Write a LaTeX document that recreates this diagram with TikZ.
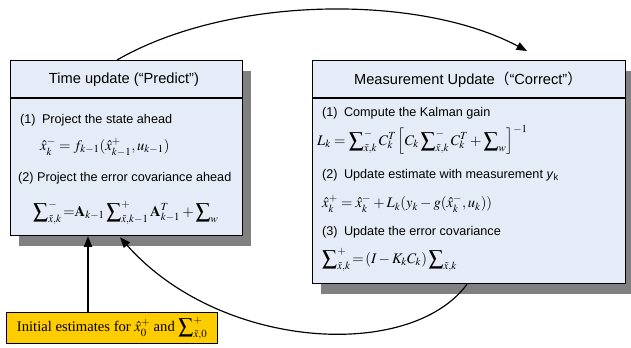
\documentclass[tikz,border=0pt]{standalone}
\usepackage{mathptmx}
\usepackage{fontspec}
\setmainfont{Liberation Sans}
\newfontfamily\cjkfont{Noto Sans CJK SC}
\newfontfamily\seriffont{Liberation Serif}
\usetikzlibrary{positioning,shadows,arrows.meta}
\definecolor{boxblue}{HTML}{E6ECF7}
\definecolor{shadowgray}{HTML}{808080}
\definecolor{initgold}{HTML}{FFCC00}
\tikzset{
  stagebox/.style={draw, line width=1.1pt, fill=boxblue, inner sep=0pt, anchor=north west,
    drop shadow={shadow xshift=0.25cm, shadow yshift=-0.3cm, fill=shadowgray, opacity=1}},
  initbox/.style={draw, line width=1.1pt, fill=initgold, inner sep=0pt, anchor=north west,
    font=\seriffont\fontsize{12.5}{14}\selectfont},
  boxtitle/.style={font=\fontsize{12.5}{15}\selectfont, inner sep=0pt},
  stepline/.style={anchor=west, font=\fontsize{10.8}{13}\selectfont, inner sep=0pt},
  eqline/.style={anchor=west, font=\fontsize{12.5}{14}\selectfont, inner sep=0pt},
  flow/.style={-{Triangle[length=9pt,width=7pt]}, line width=1pt},
}
\begin{document}
\begin{tikzpicture}[x=0.03cm, y=-0.03cm]
          \useasboundingbox (0,0) rectangle (631,348);
          % the two update boxes
          \node[stagebox, minimum width=6.96cm, minimum height=5.25cm] (predict) at (10,60) {};
          \node[stagebox, minimum width=9.39cm, minimum height=6.69cm] (correct) at (312,60) {};
          \draw[line width=1.1pt] (predict.west |- 0,98) -- (predict.east |- 0,98);
          \draw[line width=1.1pt] (correct.west |- 0,98) -- (correct.east |- 0,98);
          % time update
          \node[boxtitle] (ptitle) at (124,80) {Time update (“Predict”)};
          \node[stepline] (pstep1) at (20,120) {(1)\enspace Project the state ahead};
          \node[eqline] (peq1) at (40,147) {$\hat{x}_k^- = f_{k-1}(\hat{x}_{k-1}^+,u_{k-1})$};
          \node[stepline] (pstep2) at (18,178) {(2) Project the error covariance ahead};
          \node[eqline] (peq2) at (33,213) {$\displaystyle\sum\nolimits_{\tilde{x},k}^{-}{=}\mathbf{A}_{k-1}\sum\nolimits_{\tilde{x},k-1}^{+}\mathbf{A}_{k-1}^{T}+\sum\nolimits_{w}$};
          % measurement update
          \node[boxtitle] (ctitle) at (468,80) {Measurement Update{\cjkfont （}“Correct”{\cjkfont ）}};
          \node[stepline] (cstep1) at (322,113) {(1)\enspace Compute the Kalman gain};
          \node[eqline] (ceq1) at (317,140) {$\displaystyle L_k=\sum\nolimits_{\tilde{x},k}^{-}C_k^T\left[C_k\sum\nolimits_{\tilde{x},k}^{-}C_k^T+\sum\nolimits_{w}\right]^{-1}$};
          \node[stepline] (cstep2) at (322,175) {(2)\enspace Update estimate with measurement \textit{y}\textsubscript{k}};
          \node[eqline] (ceq2) at (322,204) {$\hat{x}_k^+=\hat{x}_k^-+L_k(y_k-g(\hat{x}_k^-,u_k))$};
          \node[stepline] (cstep3) at (322,232) {(3)\enspace Update the error covariance};
          \node[eqline] (ceq3) at (322,260) {$\displaystyle\sum\nolimits_{\tilde{x},k}^{+}{=}\left(I-K_kC_k\right)\sum\nolimits_{\tilde{x},k}$};
          % initial estimates
          \node[initbox, minimum width=6.33cm, minimum height=0.93cm] (init) at (6,312)
            {Initial estimates for $\hat{x}_0^+$ and $\displaystyle\sum\nolimits_{\tilde{x},0}^{+}$};
          % connectors
          \path (predict.south west) ++(78,0) coordinate (pin);
          \path (predict.south west) ++(110,1) coordinate (pback);
          \path (predict.north west) ++(107,0) coordinate (pout);
          \path (correct.north west) ++(215,-9) coordinate (cin);
          \path (correct.south west) ++(155,0) coordinate (cout);
          \draw[flow] (init.north -| pin) -- (pin);
          \draw[flow] (pout) .. controls +(113,-65) and +(-107,-57) .. (cin);
          \draw[flow] (cout) .. controls +(-57,77) and +(100,113) .. (pback);
        \end{tikzpicture}
\end{document}
